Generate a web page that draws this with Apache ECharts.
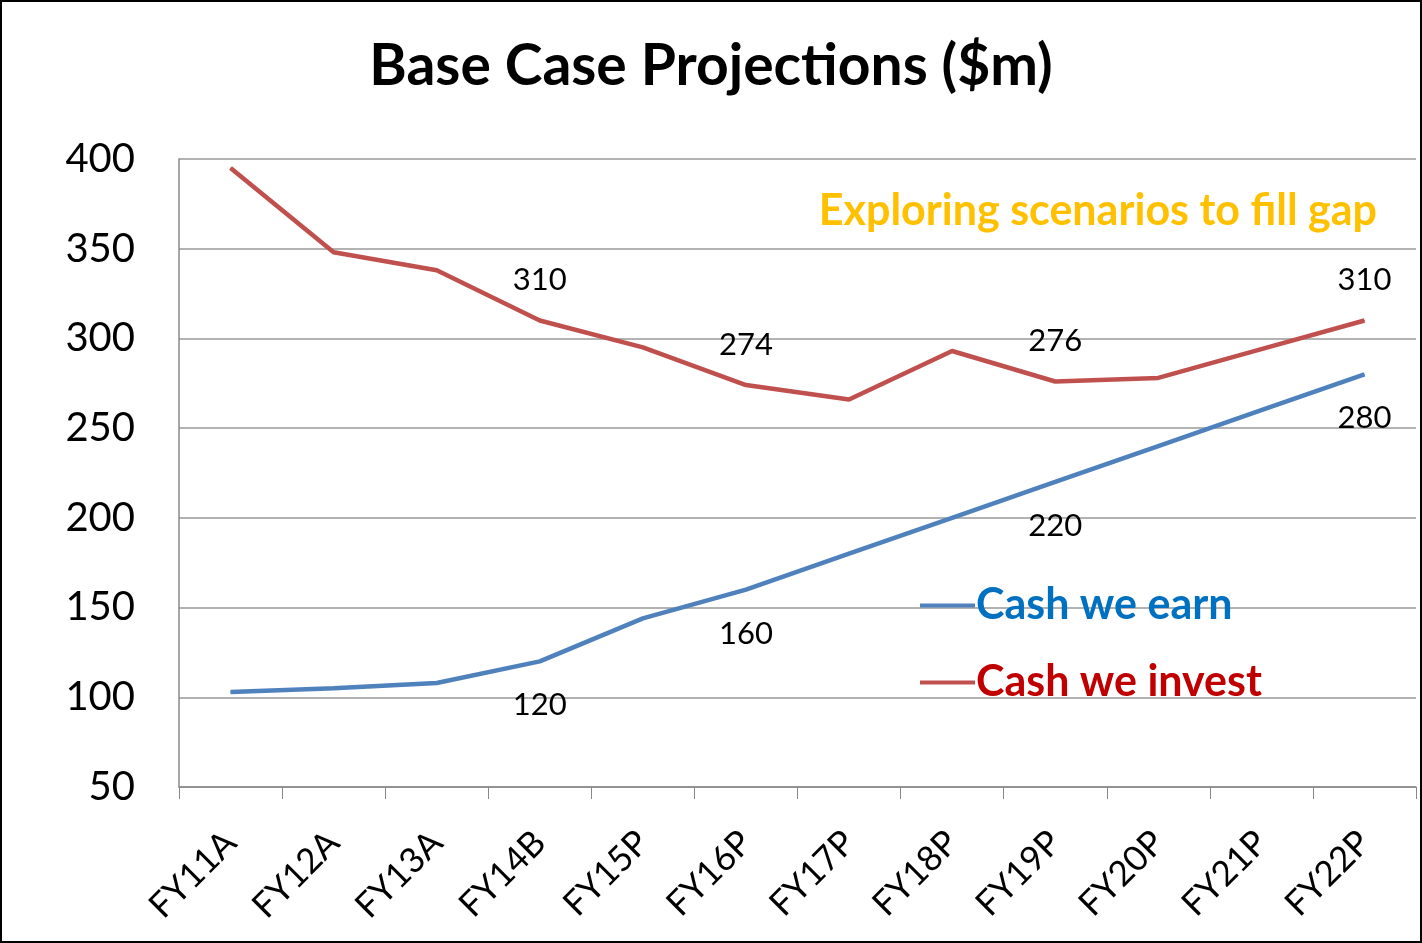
<!DOCTYPE html>
<html>
<head>
<meta charset="utf-8">
<script src="https://cdn.jsdelivr.net/npm/echarts@6/dist/echarts.min.js"></script>
<style>
html,body{margin:0;padding:0;background:#fff;}
#c{width:1418px;height:939px;border:2px solid #000;}
</style>
</head>
<body>
<div id="c"></div>
<script>
const categories = ['FY11A','FY12A','FY13A','FY14B','FY15P','FY16P','FY17P','FY18P','FY19P','FY20P','FY21P','FY22P'];
const cashEarn = [103,105,108,120,144,160,180,200,220,240,260,280];
const cashInvest = [395,348,338,310,295,274,266,293,276,278,294,310];
const labelIdx = [3,5,8,11];
const yTicks = [50,100,150,200,250,300,350,400];

const FONT = 'Lato, "Open Sans", sans-serif';
function mk(values, pos, dist){
  return values.map((v,i)=>({value:v,label:{show:labelIdx.includes(i),position:pos,distance:dist}}));
}
const chart = echarts.init(document.getElementById('c'));
chart.setOption({
  animation:false,
  title:{text:'Base Case Projections ($m)',left:'center',top:31,
    textStyle:{fontFamily:FONT,fontSize:57,fontWeight:'bold',color:'#000'}},
  grid:{left:177,right:4,top:157,bottom:154},
  xAxis:{type:'category',data:categories,boundaryGap:true,
    axisLine:{lineStyle:{color:'#888',width:1.5}},
    axisTick:{show:true,length:12,lineStyle:{color:'#888'}},
    axisLabel:{rotate:45,fontFamily:FONT,fontSize:35,color:'#000',margin:50}},
  yAxis:{type:'value',min:yTicks[0],max:yTicks[yTicks.length-1],interval:50,
    axisLine:{show:true,lineStyle:{color:'#888',width:1.5}},
    axisTick:{show:false},
    splitLine:{lineStyle:{color:'#999',width:1.5}},
    axisLabel:{fontFamily:FONT,fontSize:40,color:'#000',margin:44}},
  legend:{orient:'vertical',left:918,top:582,padding:0,itemGap:34,itemWidth:55,itemHeight:4,icon:'rect',
    data:[{name:'Cash we earn',textStyle:{color:'#0070C0'}},{name:'Cash we invest',textStyle:{color:'#C00000'}}],
    textStyle:{fontFamily:FONT,fontSize:43,fontWeight:'bold',padding:[0,0,0,-4]}},
  graphic:[{type:'text',right:43,top:188,style:{text:'Exploring scenarios to fill gap',fill:'#FFC000',
    font:'bold 43px '+FONT}}],
  series:[
    {name:'Cash we earn',type:'line',data:mk(cashEarn,'bottom',28),symbol:'circle',symbolSize:1,showSymbol:true,
     lineStyle:{color:'#4F81BD',width:4.5},itemStyle:{color:'#4F81BD'},
     label:{fontFamily:FONT,fontSize:31,color:'#000'}},
    {name:'Cash we invest',type:'line',data:mk(cashInvest,'top',24),symbol:'circle',symbolSize:1,showSymbol:true,
     lineStyle:{color:'#C0504D',width:4.5},itemStyle:{color:'#C0504D'},
     label:{fontFamily:FONT,fontSize:31,color:'#000'}}
  ]
});
</script>
</body>
</html>
